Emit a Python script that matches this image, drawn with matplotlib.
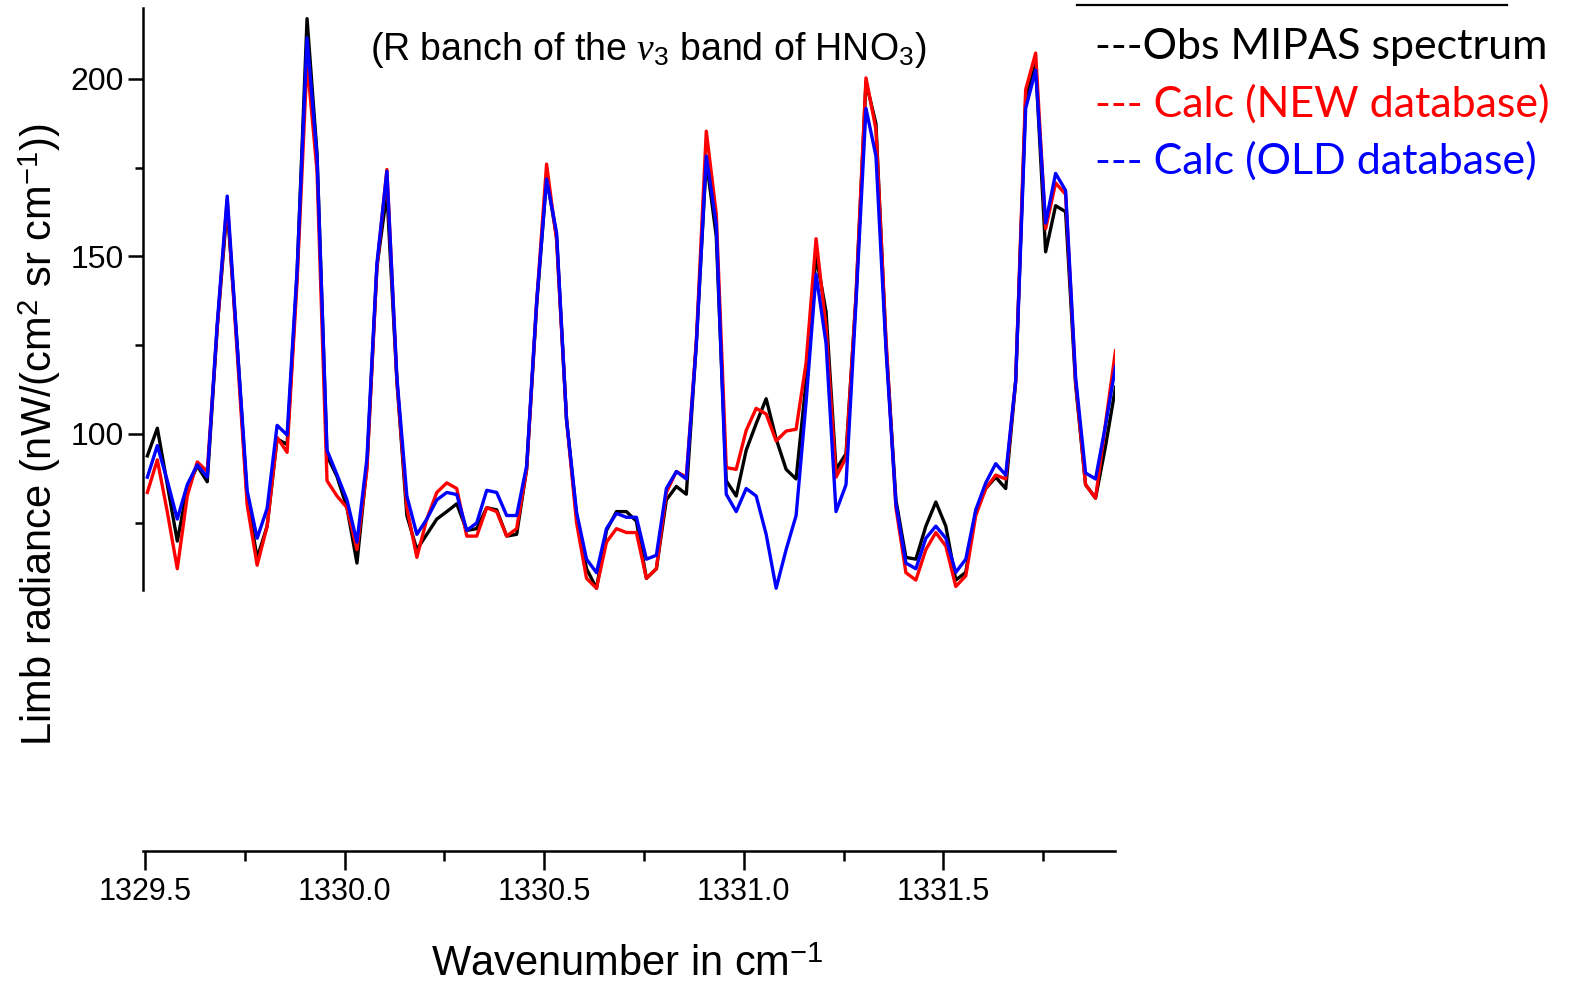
import numpy as np
import matplotlib
matplotlib.use('Agg')
import matplotlib.pyplot as plt
from matplotlib.ticker import MultipleLocator, FormatStrFormatter
from matplotlib.lines import Line2D

plt.rcParams['font.family'] = ['Liberation Sans', 'DejaVu Sans']
plt.rcParams['mathtext.fontset'] = 'custom'
plt.rcParams['mathtext.rm'] = 'Liberation Sans'
plt.rcParams['mathtext.it'] = 'Liberation Serif:italic'

# MIPAS sampling: 0.025 cm-1
wn_start = 1329.506
wn_step = 0.025

obs = [93.8, 101.6, 85.7, 69.8, 84.6, 91.0, 86.5, 130, 164, 125,
       82, 65, 74, 98.6, 97, 145, 217, 179, 93.8, 88,
       79.2, 63.6, 91, 147, 168, 115, 77, 67.4, 71.7, 76,
       78.1, 80.3, 72.8, 73.3, 79.2, 78.6, 71.2, 71.7, 90, 136,
       172.3, 155.7, 104, 77, 62, 56.5, 72.8, 78.1, 78.1, 75.4,
       59.3, 62, 81.4, 85.2, 83, 125.5, 177.2, 155.7, 86.8, 82.5,
       95.4, 102.9, 109.9, 98.6, 90, 87.3, 114.7, 150.3, 134.4, 90,
       94.4, 138.5, 199.2, 187.4, 125.5, 81.4, 65.2, 64.7, 74, 80.8,
       74, 58.8, 61, 78.1, 84.6, 87.8, 84.6, 114.7, 194.4, 204,
       151.3, 164.3, 162.6, 114, 85.7, 81.9, 96.5, 113.1]

calc_new = [83.5, 92.7, 78, 62, 82.5, 92.1, 89.4, 130, 166, 123,
            80, 63, 74, 99, 94.8, 143, 205, 174, 86.8, 82.5,
            79.2, 67.4, 90, 147, 174.5, 115, 79.2, 65.2, 76, 83.5,
            86.2, 84.6, 71.2, 71.2, 79.2, 78.1, 71.2, 73.3, 90, 137,
            176, 154.6, 104, 75, 59.3, 56.5, 69.5, 73.3, 72.2, 72.2,
            59.3, 62, 83.5, 89.4, 87.8, 126, 185.3, 162, 90.5, 90,
            101, 107.2, 105.6, 98, 100.8, 101.3, 120, 155, 130, 87.8,
            93.3, 139, 200.3, 185.8, 127, 79.2, 60.9, 58.8, 67.4, 72.2,
            68.4, 57, 60, 77, 84.6, 88.4, 87.3, 115, 197, 207.3,
            157.8, 170.7, 167.5, 115, 85.7, 81.9, 102.9, 123.4]

calc_old = [87.8, 96.7, 86.8, 76, 85.7, 91.3, 87.8, 131, 167, 125,
            84, 70.6, 79, 102.4, 99.7, 146, 211.6, 178, 95.4, 88.5,
            81.4, 69.5, 93, 148, 174, 116, 82.5, 71.7, 76, 81.4,
            83.5, 82.9, 72.8, 74.9, 84.1, 83.5, 77, 77, 91, 137,
            171.8, 156.7, 104, 78, 64.7, 60.9, 73.3, 77.6, 76.5, 76.5,
            64.7, 65.8, 84.6, 89.4, 87.3, 125, 178.3, 158.9, 83, 78.1,
            84.6, 82.5, 71.7, 56.5, 67.4, 77, 109, 145, 125.5, 78.1,
            85.7, 137, 191.7, 178.3, 124, 80.3, 63.6, 62, 70.6, 74,
            70.6, 61, 64.7, 78.6, 86.2, 91.6, 88.4, 115, 191.7, 202.5,
            159.4, 173.4, 168.6, 116, 89, 87.3, 102.4, 119]

wn = wn_start + wn_step * np.arange(len(obs))

fig = plt.figure(figsize=(15.71, 9.90), dpi=100)
ax = fig.add_axes([0.091, 0.404, 0.6188, 0.5879])

ax.plot(wn, obs, color='black', lw=2.4)
ax.plot(wn, calc_new, color='#ff0000', lw=2.4)
ax.plot(wn, calc_old, color='#0000ff', lw=2.4)

ax.set_xlim(1329.495, 1331.93)
ax.set_ylim(56, 220)

ax.spines['top'].set_visible(False)
ax.spines['right'].set_visible(False)
ax.spines['left'].set_linewidth(1.8)
ax.spines['bottom'].set_linewidth(1.8)
# x axis sits well below the data window (Origin style offset axis)
ax.spines['bottom'].set_position(('outward', 188))

ax.xaxis.set_major_locator(MultipleLocator(0.5))
ax.xaxis.set_minor_locator(MultipleLocator(0.25))
ax.xaxis.set_major_formatter(FormatStrFormatter('%.1f'))
ax.yaxis.set_major_locator(MultipleLocator(50))
ax.yaxis.set_minor_locator(MultipleLocator(25))
ax.yaxis.set_major_formatter(FormatStrFormatter('%d'))

ax.tick_params(axis='x', which='major', direction='out', length=13.5, width=1.8, pad=5, labelsize=22)
ax.tick_params(axis='x', which='minor', direction='out', length=7, width=1.8)
ax.tick_params(axis='y', which='major', direction='out', length=11, width=1.8, pad=3, labelsize=23)
ax.tick_params(axis='y', which='minor', direction='out', length=6, width=1.8)

fig.text(40 / 1571, 1 - 435 / 990, r'Limb radiance (nW/(cm$^2$ sr cm$^{-1}$))',
         rotation=90, ha='center', va='center', fontsize=30)
fig.text(627 / 1571, 1 - 965 / 990, r'Wavenumber in cm$^{-1}$',
         ha='center', va='center', fontsize=30)

fig.text(648 / 1571, 1 - 50 / 990, r'(R banch of the $\nu_3$ band of HNO$_3$)',
         ha='center', va='center', fontsize=27)

# legend drawn as coloured text lines, with a rule above
fig.add_artist(Line2D([1077 / 1571, 1507 / 1571], [1 - 5 / 990, 1 - 5 / 990],
                      color='black', lw=1.6, transform=fig.transFigure))
leg_font = ['Lato', 'DejaVu Sans']
fig.text(1095 / 1571, 1 - 47 / 990, '---Obs MIPAS spectrum', color='black',
         ha='left', va='center', fontsize=31, family=leg_font)
fig.text(1095 / 1571, 1 - 104 / 990, '--- Calc (NEW database)', color='#ff0000',
         ha='left', va='center', fontsize=31, family=leg_font)
fig.text(1095 / 1571, 1 - 161 / 990, '--- Calc (OLD database)', color='#0000ff',
         ha='left', va='center', fontsize=31, family=leg_font)

fig.savefig('out.png', dpi=100)
